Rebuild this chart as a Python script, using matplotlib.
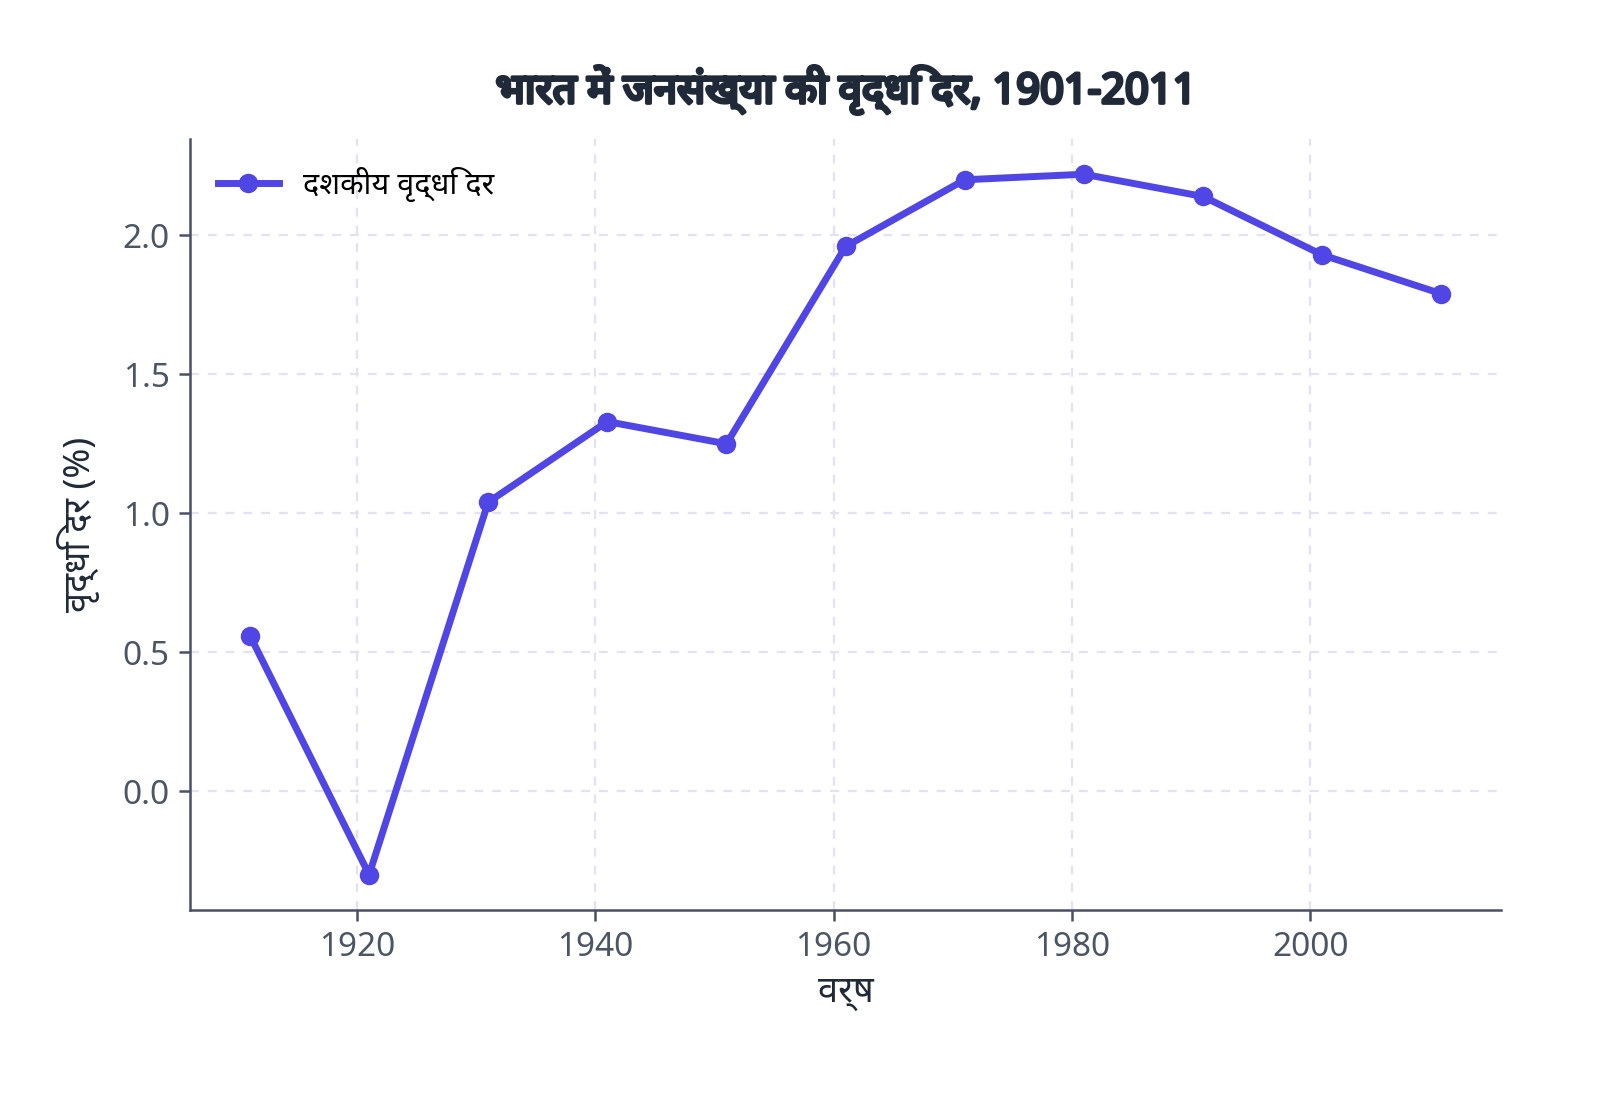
import matplotlib
matplotlib.use("Agg")
import matplotlib.pyplot as plt
import matplotlib.patheffects as pe
from matplotlib import font_manager

years = [1911, 1921, 1931, 1941, 1951, 1961, 1971, 1981, 1991, 2001, 2011]
growth = [0.56, -0.30, 1.04, 1.33, 1.25, 1.96, 2.20, 2.22, 2.14, 1.93, 1.79]

title = "भारत में जनसंख्या की वृद्धि दर, 1901-2011"
xlabel = "वर्ष"
ylabel = "वृद्धि दर (%)"
series_label = "दशकीय वृद्धि दर"

avail = {f.name for f in font_manager.fontManager.ttflist}
deva = [f.name for f in font_manager.fontManager.ttflist if "Devanagari" in f.name or "Lohit" in f.name or "Mukta" in f.name]
fams = [f for f in ["Noto Sans", "Open Sans"] if f in avail] + sorted(set(deva)) + ["DejaVu Sans"]
plt.rcParams['font.family'] = fams

fig = plt.figure(figsize=(8, 5.48), dpi=200)
ax = fig.add_axes([0.119, 0.170, 0.819, 0.703])

ax.plot(years, growth, color="#4F46E5", linewidth=2.5, marker="o", markersize=6,
        label=series_label, zorder=3)

ax.grid(True, linestyle=(0, (4, 4)), color="#e2e2f2", linewidth=0.8)
ax.set_axisbelow(True)
for s in ["top", "right"]:
    ax.spines[s].set_visible(False)
for s in ["left", "bottom"]:
    ax.spines[s].set_color("#4a5068")
    ax.spines[s].set_linewidth(0.9)
ax.tick_params(colors="#4a5068", labelsize=12, labelcolor="#4b5563", length=4, width=0.9)

t = ax.set_title(title, fontsize=15, fontweight="bold", color="#1f2937", pad=13)
t.set_path_effects([pe.withStroke(linewidth=1.3, foreground="#1f2937")])
ax.set_xlabel(xlabel, fontsize=13, color="#1f2937", labelpad=4)
ax.set_ylabel(ylabel, fontsize=13, color="#1f2937", labelpad=8)
ax.legend(loc="upper left", frameon=False, fontsize=11)

fig.savefig("out.png", dpi=200)
